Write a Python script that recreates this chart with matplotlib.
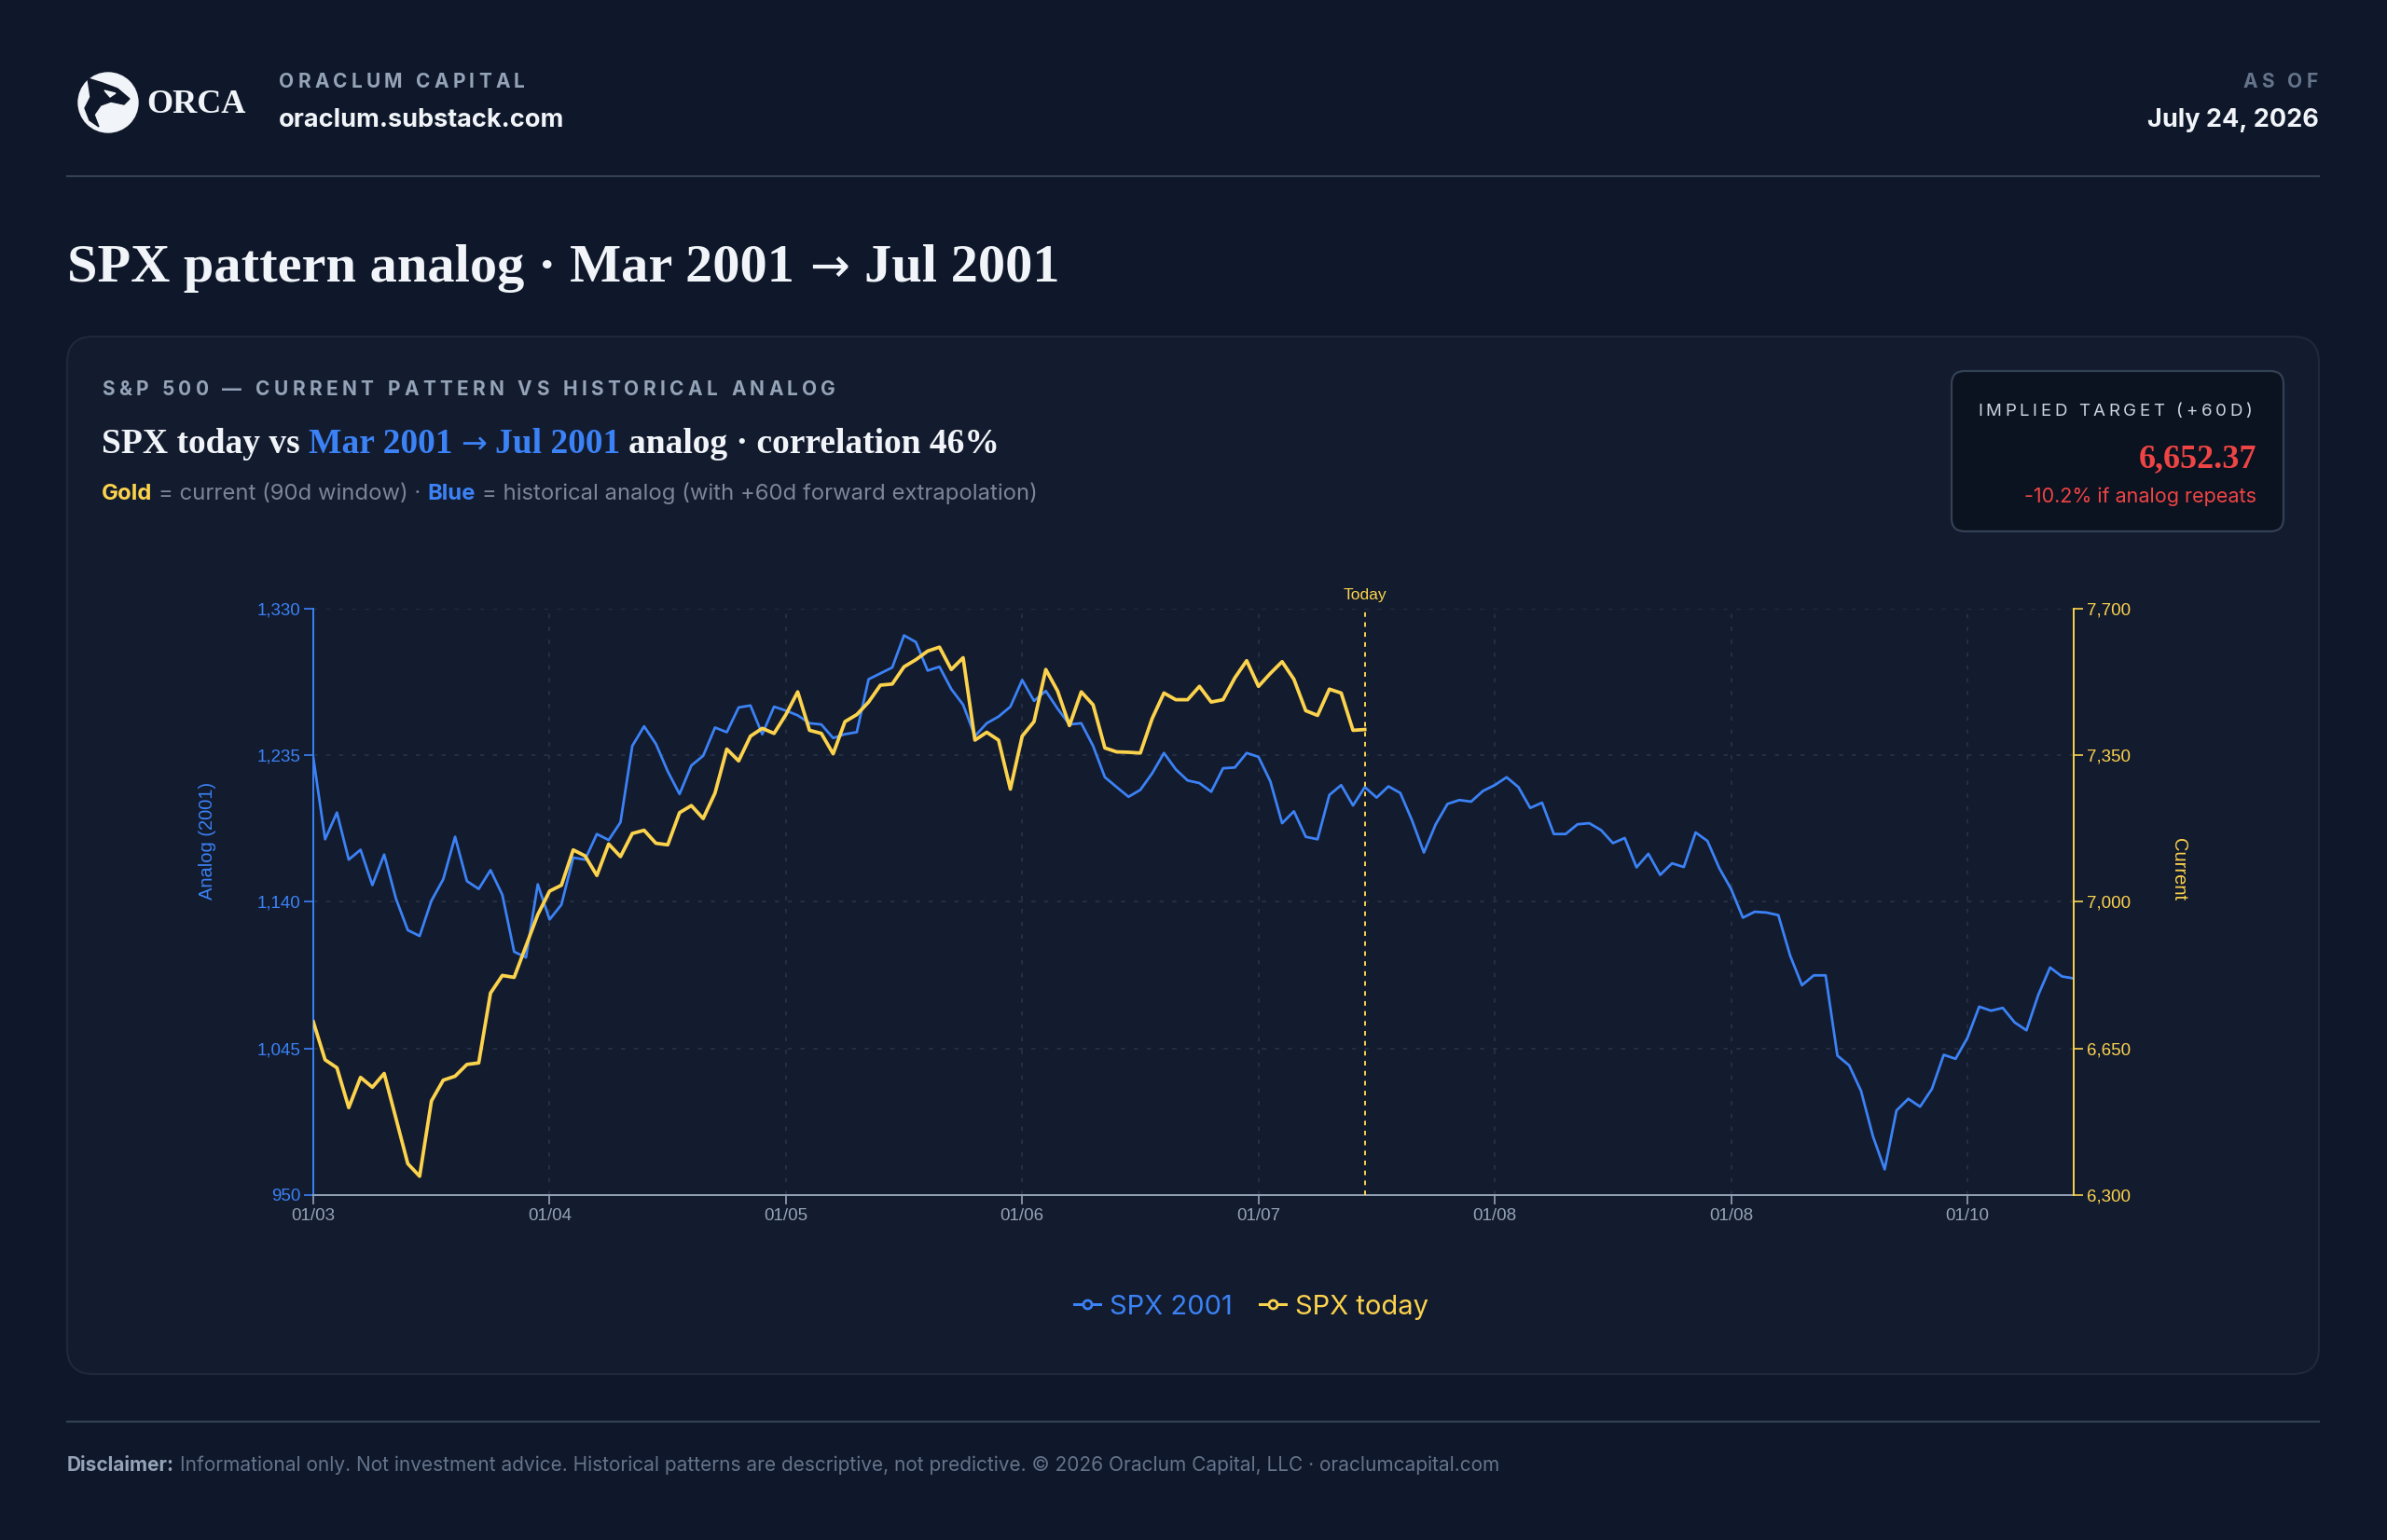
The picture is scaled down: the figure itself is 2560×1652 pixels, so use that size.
import matplotlib
matplotlib.use('Agg')
import matplotlib.pyplot as plt
import numpy as np
from matplotlib.patches import FancyBboxPatch, Circle, Polygon
from matplotlib.lines import Line2D
from matplotlib.ticker import FuncFormatter

# ---- data ----
spx_2001 = [
    1233.5, 1180.6, 1197.9, 1167.4, 1173.8, 1150.9, 1170.7, 1142.0, 1121.7, 1117.9,
    1140.8, 1154.7, 1182.2, 1153.5, 1148.4, 1160.6, 1144.6, 1107.7, 1104.0, 1151.4,
    1128.6, 1138.2, 1168.7, 1167.4, 1184.0, 1180.1, 1191.6, 1241.1, 1253.8, 1242.4,
    1224.6, 1209.9, 1228.4, 1234.7, 1253.0, 1250.0, 1266.0, 1267.3, 1248.7, 1266.5,
    1264.0, 1260.9, 1255.8, 1255.0, 1246.2, 1248.7, 1250.0, 1284.3, 1288.1, 1291.9,
    1312.7, 1308.4, 1289.9, 1292.4, 1277.9, 1267.8, 1247.4, 1255.8, 1260.1, 1266.5,
    1283.8, 1270.3, 1276.7, 1265.2, 1255.0, 1255.8, 1241.1, 1220.8, 1214.4, 1208.1,
    1212.6, 1223.3, 1236.5, 1225.9, 1218.7, 1217.0, 1211.4, 1226.6, 1227.1, 1236.5,
    1234.0, 1218.2, 1191.0, 1198.7, 1182.2, 1180.6, 1209.3, 1215.7, 1202.5, 1214.4,
    1207.6, 1214.9, 1210.6, 1192.8, 1172.0, 1190.3, 1203.5, 1206.0, 1205.0, 1211.9,
    1215.7, 1220.8, 1214.4, 1200.9, 1204.3, 1184.0, 1184.0, 1190.3, 1191.0, 1186.5,
    1178.1, 1181.4, 1162.4, 1171.2, 1157.5, 1165.0, 1162.6, 1185.0, 1179.5, 1161.9,
    1148.4, 1129.8, 1133.6, 1133.1, 1131.4, 1105.2, 1086.0, 1092.4, 1092.4, 1040.4,
    1034.0, 1017.5, 988.3, 966.7, 1004.8, 1012.4, 1007.3, 1018.8, 1040.9, 1038.3,
    1051.8, 1072.1, 1069.5, 1071.3, 1061.9, 1056.8, 1079.7, 1097.5, 1091.7, 1090.4,
]
spx_today = [
    6713.9, 6623.0, 6604.0, 6508.8, 6581.0, 6557.5, 6590.3, 6482.6, 6374.9, 6345.0,
    6524.8, 6574.4, 6583.8, 6611.9, 6615.6, 6782.3, 6824.4, 6819.8, 6894.7, 6969.6,
    7025.8, 7039.8, 7124.1, 7110.0, 7063.2, 7138.2, 7108.2, 7163.4, 7171.0, 7140.0,
    7136.3, 7213.1, 7230.0, 7199.0, 7259.9, 7364.8, 7336.7, 7395.7, 7414.4, 7402.3,
    7447.2, 7501.5, 7409.7, 7402.3, 7353.6, 7430.4, 7447.2, 7477.2, 7517.5, 7520.2,
    7561.4, 7578.3, 7598.9, 7608.3, 7554.9, 7583.0, 7386.3, 7405.0, 7386.3, 7269.3,
    7395.7, 7430.4, 7554.9, 7503.4, 7421.0, 7501.5, 7470.6, 7367.6, 7358.2, 7357.3,
    7355.4, 7437.8, 7498.7, 7482.8, 7482.8, 7514.6, 7477.2, 7482.8, 7535.0, 7576.0,
    7514.6, 7545.5, 7573.6, 7531.5, 7456.6, 7445.3, 7508.0, 7498.7, 7409.7, 7411.6,
]
x_tick_pos = [0, 20, 40, 60, 80, 100, 120, 140]
x_tick_labels = ['01/03', '01/04', '01/05', '01/06', '01/07', '01/08', '01/08', '01/10']
left_ticks = [950, 1045, 1140, 1235, 1330]
right_ticks = [6300, 6650, 7000, 7350, 7700]
today_idx = 89
implied_target = 6652.37
implied_pct = -10.2
correlation = 46

# ---- style ----
BG = '#0f172a'
CARD = '#131b2e'
BOX = '#0b1220'
LINE = '#2b3649'
BLUE = '#3b82f6'
GOLD = '#fcd34d'
RED = '#ef4444'
WHITE = '#f1f5f9'
GRAY = '#94a3b8'
DIM = '#64748b'
MID = '#7b8698'
SANS = ['Inter', 'DejaVu Sans']
SERIF = ['Liberation Serif', 'DejaVu Serif']
ARROW = ['DejaVu Sans']
CHART = ['Liberation Sans', 'DejaVu Sans']

W, H = 2560, 1652
fig = plt.figure(figsize=(W / 100, H / 100), dpi=100, facecolor=BG)
bg = fig.add_axes([0, 0, 1, 1])
bg.set_xlim(0, W)
bg.set_ylim(H, 0)
bg.axis('off')
bg.set_zorder(0)
R = fig.canvas.get_renderer()


def txt(x, y, s, **kw):
    return bg.text(x, y, s, **kw)


def run(x, y, pieces, gap, **common):
    # draw text pieces one after another in different colours / fonts
    for s, kw in pieces:
        opts = dict(common)
        opts.update(kw)
        t = bg.text(x, y, s, **opts)
        x += t.get_window_extent(renderer=R).width + gap
    return x


def tracked(x, y, s, track, ha='left', **kw):
    # letter-spaced text
    items = []
    for ch in s:
        if ch == ' ':
            items.append((None, kw.get('fontsize', 12) * 1.389 * 0.3))
        else:
            t = bg.text(0, y, ch, **kw)
            items.append((t, t.get_window_extent(renderer=R).width))
    total = sum(w for _, w in items) + track * (len(items) - 1)
    if ha == 'right':
        x -= total
    for t, w in items:
        if t is not None:
            t.set_x(x)
        x += w + track


# ---- header ----
bg.add_patch(Circle((116, 110), 32, color='#f1f5f9', zorder=2))
bg.add_patch(Polygon([(94, 84), (110, 89), (126, 95), (139, 106), (133, 112), (119, 109),
                      (108, 113), (101, 123), (106, 136), (96, 129), (91, 116), (97, 104)],
                     closed=True, color=BG, zorder=3))
bg.add_patch(Polygon([(112, 97), (124, 100), (118, 104)], closed=True, color='#f1f5f9', zorder=4))
txt(157, 121, 'ORCA', family=SERIF, fontsize=26, color=WHITE, fontweight='semibold')
tracked(299, 94, 'ORACLUM CAPITAL', 4.2, family=SANS, fontsize=15, fontweight='bold', color=GRAY)
txt(299, 136, 'oraclum.substack.com', family=SANS, fontsize=19.5, fontweight='bold', color=WHITE)
tracked(2486, 94, 'AS OF', 4.2, ha='right', family=SANS, fontsize=15, fontweight='bold', color=DIM)
txt(2487, 136, 'July 24, 2026', family=SANS, fontsize=19.5, fontweight='bold', color=WHITE, ha='right')
bg.plot([72, 2487], [189, 189], color='#334155', lw=1.6)

run(72, 302, [('SPX pattern analog · Mar 2001', {}),
              ('→', dict(family=ARROW, fontweight='normal', fontsize=37)),
              ('Jul 2001', {})],
    16, family=SERIF, fontsize=42, fontweight='bold', color=WHITE)

# ---- card ----
bg.add_patch(FancyBboxPatch((72, 361), 2415, 1113, boxstyle='round,pad=0,rounding_size=28',
                            facecolor=CARD, edgecolor='#1e293b', lw=1.6))
tracked(109, 424, 'S&P 500 — CURRENT PATTERN VS HISTORICAL ANALOG', 4.3,
        family=SANS, fontsize=15, fontweight='bold', color=GRAY)
run(109, 486, [('SPX today vs', dict(color=WHITE)),
               ('Mar 2001', dict(color=BLUE)),
               ('→', dict(color=BLUE, family=ARROW, fontweight='normal', fontsize=24)),
               ('Jul 2001', dict(color=BLUE)),
               (f'analog · correlation {correlation}%', dict(color=WHITE))],
    9, family=SERIF, fontsize=27, fontweight='bold')
run(109, 536, [('Gold', dict(color=GOLD, fontweight='bold')),
               ('= current (90d window) ·', dict(color=MID)),
               ('Blue', dict(color=BLUE, fontweight='bold')),
               ('= historical analog (with +60d forward extrapolation)', dict(color=MID))],
    7, family=SANS, fontsize=17.2)

# implied target box
bg.add_patch(FancyBboxPatch((2093, 398), 356, 172, boxstyle='round,pad=0,rounding_size=14',
                            facecolor=BOX, edgecolor='#334155', lw=1.6))
tracked(2121, 446, 'IMPLIED TARGET (+60D)', 3.6, family=SANS, fontsize=13.5, color='#cbd5e1')
txt(2420, 501, f'{implied_target:,.2f}', family=SERIF, fontsize=26, fontweight='bold',
    color=RED, ha='right')
txt(2420, 539, f'{implied_pct:.1f}% if analog repeats', family=SANS, fontsize=15.5,
    color=RED, ha='right')

# ---- chart ----
ax = fig.add_axes([336 / W, 1 - 1282 / H, 1888 / W, 629 / H])
ax.set_zorder(2)
ax.set_facecolor('none')
xb = np.arange(len(spx_2001))
xg = np.arange(len(spx_today))
ax.plot(xb, spx_2001, color=BLUE, lw=2.0, solid_joinstyle='round', zorder=3)
ax.set_xlim(0, len(spx_2001) - 1)
ax.set_ylim(left_ticks[0], left_ticks[-1])
ax.set_yticks(left_ticks)
ax.set_xticks(x_tick_pos)
ax.set_xticklabels(x_tick_labels)
ax.yaxis.set_major_formatter(FuncFormatter(lambda v, p: f'{v:,.0f}'))
ax.grid(True, color=LINE, lw=1.1, ls=(0, (3, 6)))
ax.set_axisbelow(True)
for s in ['top', 'right']:
    ax.spines[s].set_visible(False)
ax.spines['left'].set_color(BLUE)
ax.spines['left'].set_linewidth(1.4)
ax.spines['bottom'].set_color(GRAY)
ax.spines['bottom'].set_linewidth(1.4)
ax.tick_params(axis='y', colors=BLUE, length=7, width=1.2, pad=3, labelsize=13.5)
ax.tick_params(axis='x', colors=GRAY, length=7, width=1.2, pad=3, labelsize=13.5)
for lab in ax.get_xticklabels() + ax.get_yticklabels():
    lab.set_family(CHART)

ax2 = ax.twinx()
ax2.set_zorder(3)
ax2.patch.set_visible(False)
ax2.plot(xg, spx_today, color=GOLD, lw=2.7, solid_joinstyle='round', zorder=4)
ax2.set_ylim(right_ticks[0], right_ticks[-1])
ax2.set_yticks(right_ticks)
ax2.yaxis.set_major_formatter(FuncFormatter(lambda v, p: f'{v:,.0f}'))
for s in ['top', 'left', 'bottom']:
    ax2.spines[s].set_visible(False)
ax2.spines['right'].set_color(GOLD)
ax2.spines['right'].set_linewidth(1.4)
ax2.tick_params(axis='y', colors=GOLD, length=7, width=1.2, pad=3, labelsize=13.5)
for lab in ax2.get_yticklabels():
    lab.set_family(CHART)

ax2.axvline(today_idx, color=GOLD, lw=1.4, ls=(0, (2.5, 3)), zorder=2)
ax2.annotate('Today', xy=(today_idx, 1), xycoords=('data', 'axes fraction'),
             xytext=(0, 5), textcoords='offset points', ha='center', va='bottom',
             color=GOLD, fontsize=12.5, family=CHART)

txt(223, 902, 'Analog (2001)', rotation=90, ha='center', va='center', color=BLUE,
    fontsize=14.5, family=CHART)
txt(2337, 933, 'Current', rotation=-90, ha='center', va='center', color=GOLD,
    fontsize=14.5, family=CHART)

handles = [Line2D([], [], color=BLUE, lw=2.2, marker='o', ms=6.5, mfc=CARD, mec=BLUE, mew=2),
           Line2D([], [], color=GOLD, lw=2.2, marker='o', ms=6.5, mfc=CARD, mec=GOLD, mew=2)]
ax.legend(handles, ['SPX 2001', 'SPX today'], loc='center',
          bbox_to_anchor=(1342 / W, 1 - 1402 / H), bbox_transform=fig.transFigure,
          ncol=2, frameon=False, prop={'family': SANS, 'size': 21},
          labelcolor=[BLUE, GOLD], handlelength=0.95, handletextpad=0.35, columnspacing=1.0)

# ---- footer ----
bg.plot([72, 2487], [1525, 1525], color='#334155', lw=1.6)
run(72, 1578, [('Disclaimer:', dict(color=GRAY, fontweight='bold')),
               ('Informational only. Not investment advice. Historical patterns are descriptive, '
                'not predictive. © 2026 Oraclum Capital, LLC · oraclumcapital.com', dict(color=DIM))],
    6, family=SANS, fontsize=15.0)

fig.savefig('out.png', dpi=100, facecolor=BG)
